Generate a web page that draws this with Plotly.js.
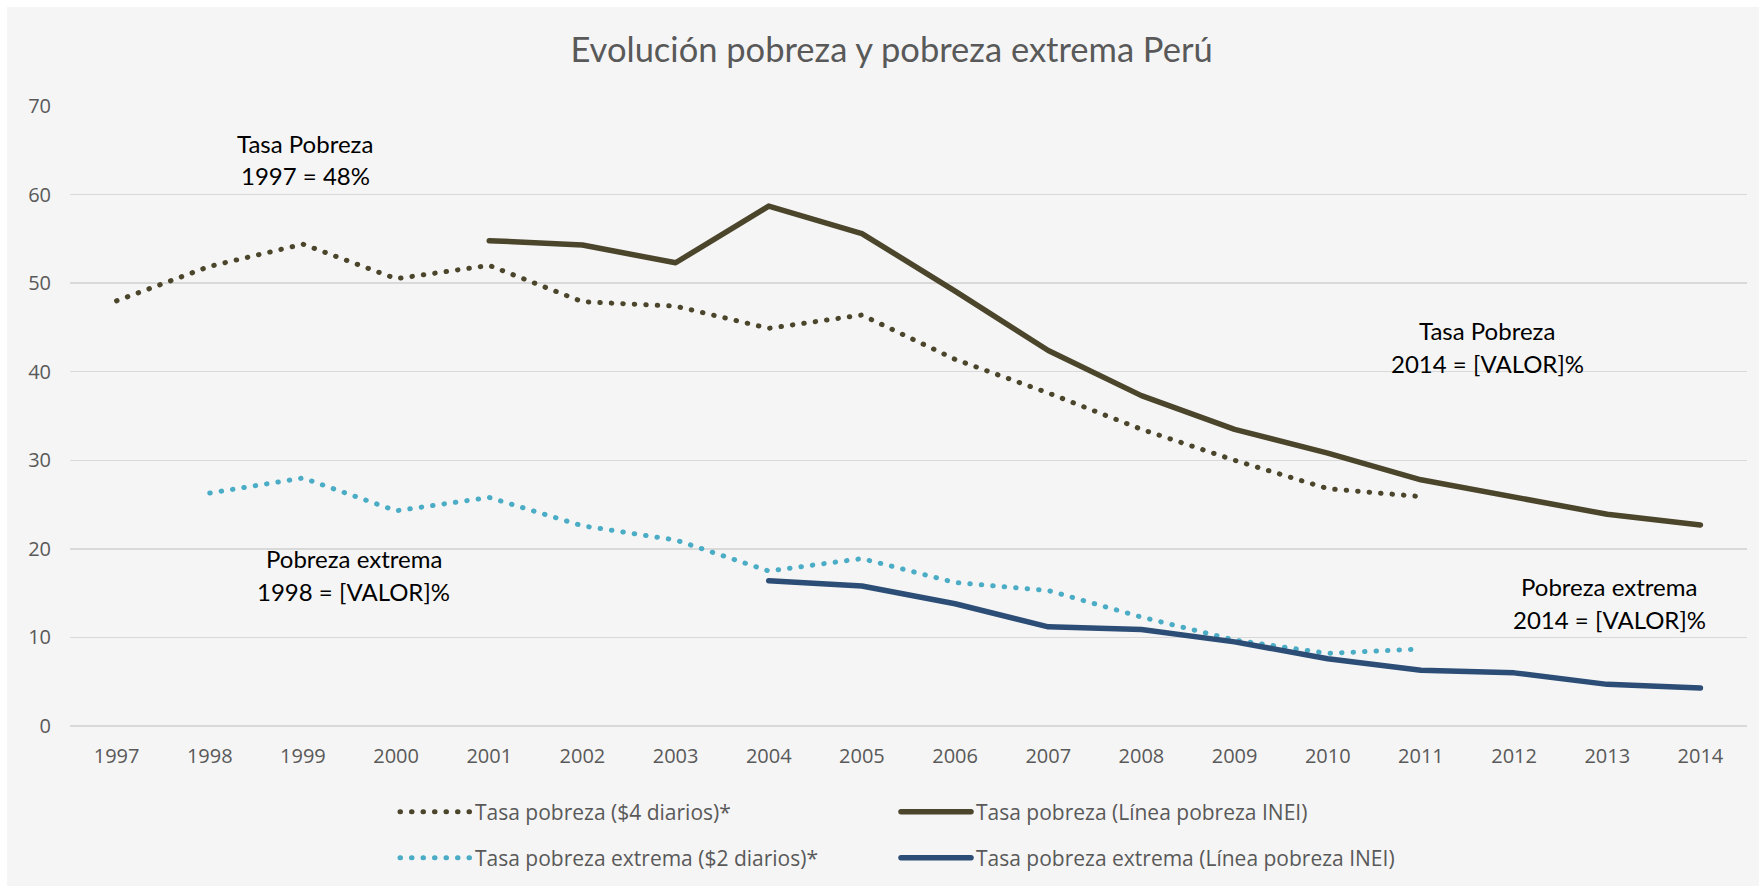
<!DOCTYPE html>
<html>
<head>
<meta charset="utf-8">
<script src="https://cdn.plot.ly/plotly-3.0.1.min.js"></script>
<style>
  html, body { margin: 0; padding: 0; background: #ffffff; }
  #chart { position: absolute; left: 7px; top: 7px; width: 1752px; height: 879px; }
  .js-line { stroke-linecap: round; stroke-linejoin: round; }
</style>
</head>
<body>
<div id="chart"></div>
<script>
// ---- data ----
const years = [1997, 1998, 1999, 2000, 2001, 2002, 2003, 2004, 2005, 2006, 2007, 2008, 2009, 2010, 2011, 2012, 2013, 2014];
const tickLabels = years.map(String);
const pobreza4 = [48.0, 51.9, 54.4, 50.5, 52.0, 47.9, 47.4, 44.9, 46.4, 41.4, 37.6, 33.5, 30.0, 26.8, 25.9, null, null, null];
const pobrezaINEI = [null, null, null, null, 54.8, 54.3, 52.3, 58.7, 55.6, 49.1, 42.4, 37.3, 33.5, 30.8, 27.8, 25.8, 23.9, 22.7];
const extrema2 = [null, 26.3, 28.0, 24.3, 25.8, 22.6, 21.0, 17.5, 18.9, 16.2, 15.3, 12.3, 9.7, 8.2, 8.7, null, null, null];
const extremaINEI = [null, null, null, null, null, null, null, 16.4, 15.8, 13.8, 11.2, 10.9, 9.5, 7.6, 6.3, 6.0, 4.7, 4.3];
const seriesNames = [
  'Tasa pobreza ($4 diarios)*',
  'Tasa pobreza (Línea pobreza INEI)',
  'Tasa pobreza extrema ($2 diarios)*',
  'Tasa pobreza extrema (Línea pobreza INEI)'
];
const titleText = 'Evolución pobreza y pobreza extrema Perú';
const annotationLines = [
  ['Tasa Pobreza', '1997 = 48%'],
  ['Tasa Pobreza', '2014 = [VALOR]%'],
  ['Pobreza extrema', '1998 = [VALOR]%'],
  ['Pobreza extrema', '2014 = [VALOR]%']
];

// ---- styles ----
const cOlive = '#4a452b';
const cNavy = '#2c4d76';
const cBlue = '#4bacc6';
const dotDash = '0.5px,11px';
const gray = '#595959';

const traces = [
  {x: years, y: pobreza4, name: seriesNames[0], mode: 'lines',
   line: {color: cOlive, width: 5, dash: dotDash}, legend: 'legend'},
  {x: years, y: pobrezaINEI, name: seriesNames[1], mode: 'lines',
   line: {color: cOlive, width: 5.5}, legend: 'legend2'},
  {x: years, y: extrema2, name: seriesNames[2], mode: 'lines',
   line: {color: cBlue, width: 5, dash: dotDash}, legend: 'legend3'},
  {x: years, y: extremaINEI, name: seriesNames[3], mode: 'lines',
   line: {color: cNavy, width: 5.5}, legend: 'legend4'}
];

const W = 1752, H = 879;
const legFont = {family: 'Open Sans, sans-serif', size: 21, color: gray};
function leg(px, py) {
  return {x: px / W, y: 1 - py / H, xref: 'container', yref: 'container',
    xanchor: 'left', yanchor: 'middle', orientation: 'h', bgcolor: 'rgba(0,0,0,0)',
    font: legFont, itemwidth: 70, borderwidth: 0};
}

const annPos = [
  [0.1404, 0.9403, 0.8882],
  [0.8452, 0.6371, 0.5845],
  [0.1691, 0.2700, 0.2177],
  [0.9178, 0.2242, 0.1716]
];
const annotations = [];
annotationLines.forEach((lines, i) => {
  const p = annPos[i];
  lines.forEach((t, j) => {
    annotations.push({text: t, xref: 'paper', yref: 'paper', x: p[0], y: p[1 + j],
      xanchor: 'center', yanchor: 'middle', showarrow: false,
      font: {family: 'Lato, sans-serif', size: 24, color: '#000000'}});
  });
});

const layout = {
  width: W, height: H,
  paper_bgcolor: '#f5f5f5', plot_bgcolor: '#f5f5f5',
  margin: {l: 63, r: 12, t: 99, b: 160},
  title: {text: titleText, x: 0.5049, xref: 'container', xanchor: 'center',
    y: 1 - 43 / H, yref: 'container', yanchor: 'middle',
    font: {family: 'Lato, sans-serif', size: 34.5, color: gray}},
  xaxis: {type: 'linear', range: [1996.5, 2014.5], tickvals: years, ticktext: tickLabels,
    showgrid: false, zeroline: false, showline: false, ticks: '',
    ticklabelstandoff: 16,
    tickfont: {family: 'Open Sans, sans-serif', size: 20, color: gray}, fixedrange: true},
  yaxis: {range: [0, 70], dtick: 10, tick0: 0, showgrid: true, gridcolor: '#d9d9d9', gridwidth: 1.5,
    zeroline: true, zerolinecolor: '#d9d9d9', zerolinewidth: 1.5, showline: false, ticks: '',
    ticklabelstandoff: 18,
    tickfont: {family: 'Open Sans, sans-serif', size: 20, color: gray}, fixedrange: true},
  showlegend: true,
  legend: leg(388, 805),
  legend2: leg(889, 805),
  legend3: leg(388, 851),
  legend4: leg(889, 851),
  annotations: annotations,
  hovermode: false
};

Plotly.newPlot('chart', traces, layout, {displayModeBar: false, staticPlot: true});
</script>
</body>
</html>
